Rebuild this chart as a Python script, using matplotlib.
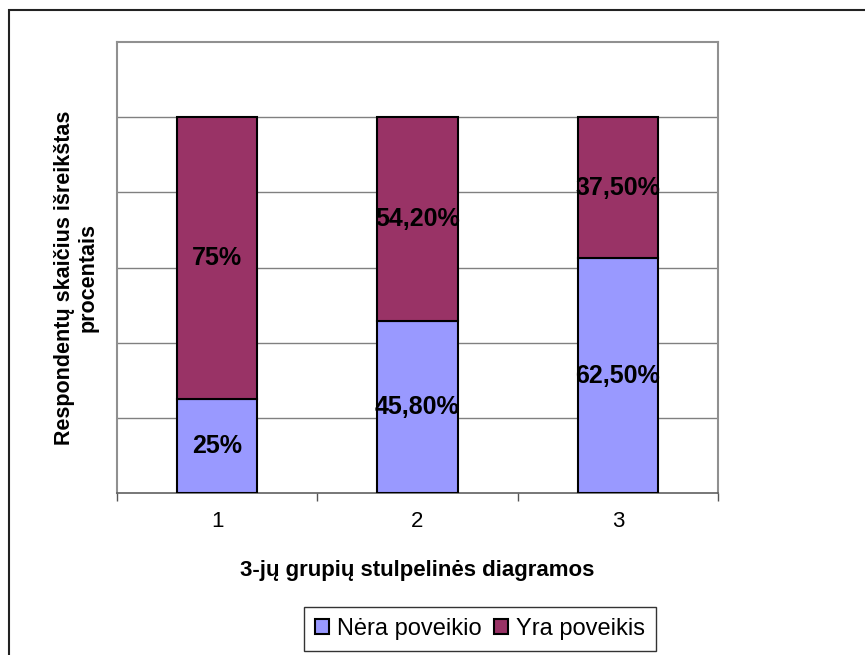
import matplotlib.pyplot as plt
from matplotlib.patches import Rectangle

plt.rcParams['font.family'] = ['Liberation Sans', 'DejaVu Sans']

groups = ["1", "2", "3"]
nera = [25.0, 45.8, 62.5]
yra = [75.0, 54.2, 37.5]
nera_labels = ["25%", "45,80%", "62,50%"]
yra_labels = ["75%", "54,20%", "37,50%"]

W, H = 865, 655
fig = plt.figure(figsize=(W / 100, H / 100), dpi=100)
ax = fig.add_axes([117 / W, 1 - 493 / H, (718 - 117) / W, (493 - 42) / H])

x = range(len(groups))
b1 = ax.bar(x, nera, width=0.4, color="#9999FF", edgecolor="black", linewidth=1.5,
            label="Nėra poveikio", zorder=3)
b2 = ax.bar(x, yra, width=0.4, bottom=nera, color="#993366", edgecolor="black",
            linewidth=1.5, label="Yra poveikis", zorder=3)

for i in x:
    ax.text(i, nera[i] / 2, nera_labels[i], ha="center", va="center",
            fontsize=18, fontweight="bold", zorder=4)
    ax.text(i, nera[i] + yra[i] / 2, yra_labels[i], ha="center", va="center",
            fontsize=18, fontweight="bold", zorder=4)

ax.set_xlim(-0.5, 2.5)
ax.set_ylim(0, 120)
ax.set_yticks([20, 40, 60, 80, 100])
ax.set_yticklabels([])
ax.tick_params(axis="y", length=0)
ax.grid(axis="y", color="#808080", linewidth=1, zorder=0)
ax.set_xticks([-0.5, 0.5, 1.5, 2.5], minor=False)
ax.set_xticklabels([])
ax.set_xticks([0, 1, 2], minor=True)
ax.set_xticklabels(groups, minor=True)
ax.tick_params(axis="x", which="major", length=6, color="#555555", width=1)
ax.tick_params(axis="x", which="minor", length=0, pad=13, labelsize=16)

for s in ["top", "right", "left"]:
    ax.spines[s].set_color("#909090")
    ax.spines[s].set_linewidth(1.5)
ax.spines["bottom"].set_color("#606060")
ax.spines["bottom"].set_linewidth(1.2)

ax.set_xlabel("3-jų grupių stulpelinės diagramos", fontsize=16, fontweight="bold",
              labelpad=20)
ax.set_ylabel("Respondentų skaičius išreikštas\nprocentais", fontsize=15.5,
              fontweight="bold")
ax.yaxis.set_label_coords(-0.03, 0.478)

fig.legend(handles=[b1, b2], loc="center", bbox_to_anchor=(480 / W, 1 - 629 / H),
           ncol=2, frameon=True, fancybox=False, edgecolor="black", fontsize=17,
           handlelength=0.6, handleheight=0.6, handletextpad=0.35, columnspacing=0.5,
           borderpad=0.45, borderaxespad=0)

fig.patches.append(Rectangle((9 / W, -0.1), 1.2, 1 - 10 / H + 0.1,
                             transform=fig.transFigure, fill=False,
                             edgecolor="#222222", linewidth=1.5))

fig.savefig("out.png", dpi=100)
